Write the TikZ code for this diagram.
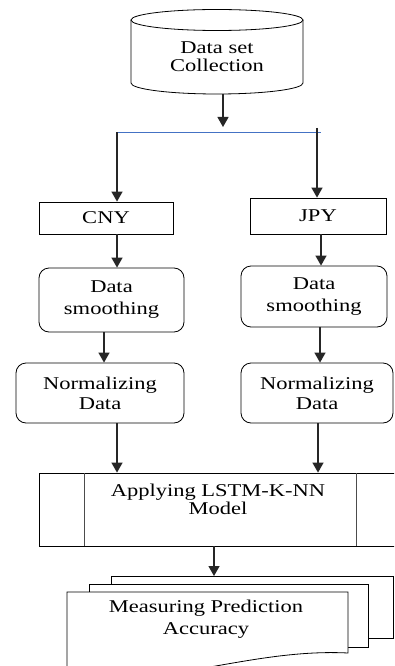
\documentclass[tikz,border=0pt]{standalone}
\usepackage{fontspec}
\setmainfont[FakeStretch=1.25]{Liberation Serif}
\usetikzlibrary{arrows.meta,calc}
\definecolor{linkblue}{RGB}{68,114,196}
\begin{document}
\begin{tikzpicture}[x=1pt,y=1pt,
  every node/.style={font=\fontsize{18}{20}\selectfont, text=black},
  boxsq/.style={draw, line width=0.8pt, inner sep=0pt},
  boxrd/.style={draw, line width=0.8pt, rounded corners=10pt, inner sep=0pt, align=center},
  flow/.style={line width=1.3pt, draw=black!85, -{Triangle[width=11pt,length=10pt]}},
  lbl/.style={align=center, inner sep=0pt}]
\fill[white] (0,0) rectangle (394,-666);
\useasboundingbox (0,0) rectangle (394,-666);
\begin{scope}
\clip (0,0) rectangle (394,-666);
% cylinder
\draw[line width=0.8pt, fill=white] (131,-20) -- (131,-83) arc[start angle=180,end angle=360,x radius=86,y radius=11] -- (303,-20);
\draw[line width=0.8pt] (217,-20) ellipse[x radius=86,y radius=10.5];
\node[lbl] (dsc) at (217,-57) {Data set\\[-2pt]Collection};
\coordinate (cylbot) at (223,-94);
\coordinate (split) at (223,-127);
\coordinate (bl) at (117,-132);
\coordinate (br) at (321,-132);
\coordinate (rtop) at (317,-128);
\draw[linkblue, line width=0.8pt] (bl) -- (br);
\draw[flow] (cylbot) -- (split);

\node[boxsq, minimum width=134pt, minimum height=32pt] (cny) at (106,-218) {CNY};
\node[boxsq, minimum width=136pt, minimum height=36pt] (jpy) at (318,-216) {JPY};
\node[boxrd, minimum width=145pt, minimum height=64pt] (ls) at (111.5,-300) {Data\\[2pt]smoothing};
\node[boxrd, minimum width=146pt, minimum height=61pt] (rs) at (314,-296.5) {Data\\[2pt]smoothing};
\node[boxrd, minimum width=168pt, minimum height=60pt] (ln) at (100,-393) {Normalizing\\Data};
\node[boxrd, minimum width=152pt, minimum height=60pt] (rn) at (317,-393) {Normalizing\\Data};

% predefined process
\node[boxsq, minimum width=362pt, minimum height=73pt] (proc) at (220,-509.5) {};
\draw[line width=0.8pt, black!70] (84,-473) -- (84,-546);
\draw[line width=0.8pt, black!70] (356,-473) -- (356,-546);
\node[lbl] (proct) at (218,-499.5) {Applying LSTM-K-NN\\[-2pt]Model};

% multi-document
\draw[line width=0.8pt, fill=white] (111,-576) rectangle (393,-638);
\draw[line width=0.8pt, fill=white] (89,-584) rectangle (368,-647);
\draw[line width=0.8pt, fill=white] (67,-592) -- (67,-675) .. controls (160,-690) and (250,-648) .. (348,-653) -- (348,-592) -- cycle;
\coordinate (doctop) at (214,-576);
\node[lbl] (doc) at (206,-619) {Measuring Prediction\\[2pt]Accuracy};

% connectors
\draw[flow] (bl) -- ([xshift=11pt]cny.north);
\draw[flow] (rtop) -- ([xshift=-1pt]jpy.north);
\draw[flow] ([xshift=11pt]cny.south) -- ([xshift=5.5pt]ls.north);
\draw[flow] ([xshift=-7.5pt]ls.south) -- ([xshift=4pt]ln.north);
\draw[flow] ([xshift=3pt]jpy.south) -- ([xshift=7pt]rs.north);
\draw[flow] ([xshift=6pt]rs.south) -- ([xshift=3pt]rn.north);
\draw[flow] ([xshift=17pt]ln.south) -- (proc.north -| 117,0);
\draw[flow] ([xshift=1pt]rn.south) -- (proc.north -| 318,0);
\draw[flow] ([xshift=-6pt]proc.south) -- (doctop);
\end{scope}
\end{tikzpicture}
\end{document}
